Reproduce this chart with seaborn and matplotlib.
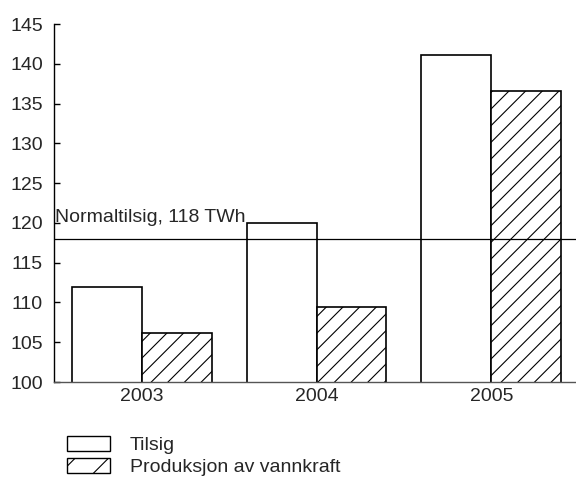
import numpy as np
import pandas as pd
import matplotlib
matplotlib.use('Agg')
import matplotlib.pyplot as plt
import matplotlib.patches as mpatches
import seaborn as sns

# Data (TWh)
years = ['2003', '2004', '2005']
tilsig = [111.9, 120.0, 141.1]
produksjon = [106.1, 109.4, 136.6]
series = ['Tilsig', 'Produksjon av vannkraft']
normal_tilsig = 118
y_ticks = [100, 105, 110, 115, 120, 125, 130, 135, 140, 145]

df = pd.DataFrame({
    'year': years * 2,
    'value': tilsig + produksjon,
    'series': [series[0]] * 3 + [series[1]] * 3,
})

sns.set_style('white')
plt.rcParams['font.family'] = ['Liberation Sans', 'DejaVu Sans']
plt.rcParams['font.size'] = 14
plt.rcParams['hatch.linewidth'] = 0.8

fig = plt.figure(figsize=(5.76, 4.84), dpi=100)
ax = fig.add_axes([0.094, 0.2107, 0.911, 0.7397])

sns.barplot(data=df, x='year', y='value', hue='series', palette=['white', 'white'],
            edgecolor='black', linewidth=1.2, width=0.8, legend=False, ax=ax)

# hatch the production bars
for bar in ax.containers[1]:
    bar.set_hatch('//')

ax.axhline(normal_tilsig, color='black', lw=0.9)
ax.text(-0.497, 119.6, 'Normaltilsig, 118 TWh', ha='left', va='bottom', fontsize=14)

ax.set_ylim(100, 145)
ax.set_xlim(-0.5, 2.5)
ax.set_yticks(y_ticks)
ax.set_xlabel('')
ax.set_ylabel('')

# category boundary ticks on x axis
ax.set_xticks([0, 1, 2])
ax.set_xticks([0.5, 1.5], minor=True)
ax.tick_params(axis='x', which='major', length=0, pad=4)
ax.tick_params(axis='x', which='minor', direction='in', length=4, width=1, color='black')
ax.tick_params(axis='y', direction='in', length=4, width=1, color='black', pad=8, left=True)

sns.despine(ax=ax, top=True, right=True)
for s in ['left', 'bottom']:
    ax.spines[s].set_color('black')
    ax.spines[s].set_linewidth(1)
ax.spines['bottom'].set_color('#555555')

handles = [
    mpatches.Patch(facecolor='white', edgecolor='black', lw=1, label=series[0]),
    mpatches.Patch(facecolor='white', edgecolor='black', lw=1, hatch='/', label=series[1]),
]
fig.legend(handles=handles, loc='upper left', bbox_to_anchor=(0.116, 0.1),
           frameon=False, handlelength=2.2, handleheight=0.87, labelspacing=0.18,
           handletextpad=1.05, borderpad=0, borderaxespad=0, fontsize=14)

fig.savefig('out.png', dpi=100)
